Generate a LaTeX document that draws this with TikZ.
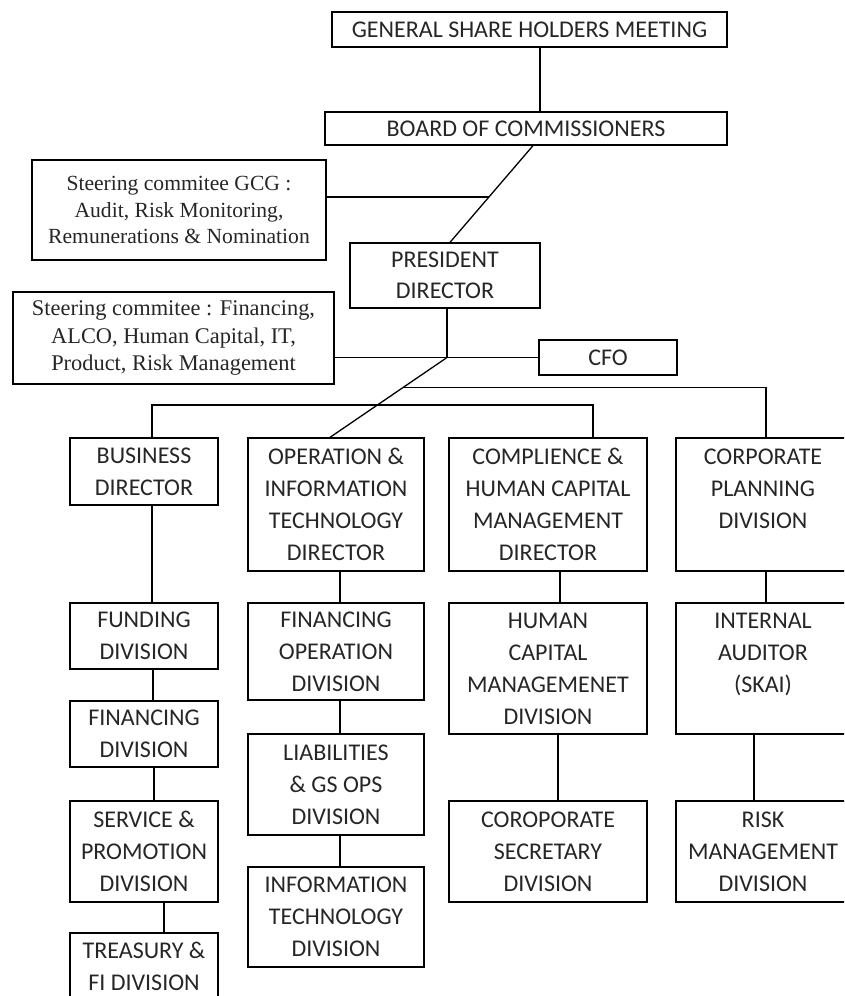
\documentclass[tikz,border=0pt]{standalone}
\usepackage{fontspec}
\usetikzlibrary{calc}
\newfontfamily\bxfont{Carlito}
\newfontfamily\stfont{Liberation Serif}
\tikzset{
  bx/.style={draw, line width=1.3pt, inner sep=0pt, align=center,
    font=\bxfont\fontsize{24}{32}\selectfont, text=black!85},
  stbox/.style={draw, line width=1.3pt, inner sep=0pt, align=center,
    font=\stfont\fontsize{21.6}{26.5}\selectfont, text=black!85},
  ln/.style={line width=1.3pt}
}
\begin{document}
\begin{tikzpicture}[x=1pt,y=-1pt]
\path[use as bounding box] (0,0) rectangle (844,996);
\clip (0,0) rectangle (844,996);
% top
\node[bx, minimum width=395pt, minimum height=35pt] (gsm) at (529.5,29.5) {GENERAL SHARE HOLDERS MEETING};
\node[bx, minimum width=402pt, minimum height=33pt] (boc) at (526,128.5) {BOARD OF COMMISSIONERS};
\node[stbox, minimum width=294pt, minimum height=100pt] (gcg) at (179,210) {Steering commitee GCG :\\Audit, Risk Monitoring,\\Remunerations \& Nomination};
\node[bx, minimum width=190pt, minimum height=65pt, font=\bxfont\fontsize{24}{31}\selectfont] (pres) at (445,275.5) {PRESIDENT\\DIRECTOR};
\node[stbox, minimum width=321pt, minimum height=92pt, font=\stfont\fontsize{22.4}{27.5}\selectfont] (st2) at (173.5,338) {Steering commitee : Financing,\\ALCO, Human Capital, IT,\\Product, Risk Management};
\node[bx, minimum width=138pt, minimum height=35pt] (cfo) at (608,357.5) {CFO};
% directors
\node[bx, minimum width=148pt, minimum height=67pt] (bus) at (144,471.5) {BUSINESS\\DIRECTOR};
\node[bx, minimum width=176pt, minimum height=133pt] (op) at (336,504.5) {OPERATION \&\\INFORMATION\\TECHNOLOGY\\DIRECTOR};
\node[bx, minimum width=198pt, minimum height=133pt] (comp) at (548,504.5) {COMPLIENCE \&\\HUMAN CAPITAL\\MANAGEMENT\\DIRECTOR};
\node[bx, minimum width=174pt, minimum height=133pt] (corp) at (763,504.5) {CORPORATE\\PLANNING\\DIVISION\\~};
% column 1
\node[bx, minimum width=148pt, minimum height=66pt] (fund) at (144,636) {FUNDING\\DIVISION};
\node[bx, minimum width=148pt, minimum height=66pt] (fin) at (144,734) {FINANCING\\DIVISION};
\node[bx, minimum width=148pt, minimum height=101pt] (serv) at (144,851.5) {SERVICE \&\\PROMOTION\\DIVISION};
\node[bx, minimum width=148pt, minimum height=67pt] (trea) at (144,966.5) {TREASURY \&\\FI DIVISION};
% column 2
\node[bx, minimum width=176pt, minimum height=97pt] (finop) at (336,651.5) {FINANCING\\OPERATION\\DIVISION};
\node[bx, minimum width=176pt, minimum height=101pt] (liab) at (336,784.5) {LIABILITIES\\\& GS OPS\\DIVISION};
\node[bx, minimum width=176pt, minimum height=100pt] (itdiv) at (336,917) {INFORMATION\\TECHNOLOGY\\DIVISION};
% column 3
\node[bx, minimum width=198pt, minimum height=131pt] (hcm) at (548,668.5) {HUMAN\\CAPITAL\\MANAGEMENET\\DIVISION};
\node[bx, minimum width=198pt, minimum height=101pt] (csec) at (548,851.5) {COROPORATE\\SECRETARY\\DIVISION};
% column 4
\node[bx, minimum width=174pt, minimum height=131pt] (ia) at (763,668.5) {INTERNAL\\AUDITOR\\(SKAI)\\~};
\node[bx, minimum width=174pt, minimum height=101pt] (risk) at (763,851.5) {RISK\\MANAGEMENT\\DIVISION};
% helper coordinates
\coordinate (bocA) at ([xshift=7pt]boc.south);
\coordinate (presA) at ([xshift=5pt]pres.north);
\coordinate (j1) at ($(bocA)!0.5306!(presA)$);
\coordinate (j2) at ([xshift=2pt]pres.south |- cfo.west);
\coordinate (opA) at ([xshift=-6pt]op.north);
\coordinate (h2) at ($(j2)!0.379!(opA)$);
\coordinate (h2e) at ([xshift=3pt]corp.north);
\coordinate (h3) at (0,405);
% connectors
\draw[ln] ([xshift=10.5pt]gsm.south) -- ([xshift=14pt]boc.north);
\draw[ln] (bocA) -- (presA);
\draw[ln] ([yshift=13pt]gcg.east) -- ([yshift=13pt]gcg.east -| j1);
\draw[ln] ([xshift=2pt]pres.south) -- (j2);
\draw[ln] (st2.east |- cfo.west) -- (cfo.west);
\draw[ln] (j2) -- (opA);
\draw[ln] (h2) -- (h2 -| h2e) -- (h2e);
\draw[ln] ([xshift=8pt]bus.north) -- ([xshift=8pt]bus.north |- h3) -- ([xshift=45pt]comp.north |- h3) -- ([xshift=45pt]comp.north);
\draw[ln] ([xshift=8pt]bus.south) -- ([xshift=8pt]fund.north);
\draw[ln] ([xshift=9pt]fund.south) -- ([xshift=9pt]fin.north);
\draw[ln] ([xshift=10pt]fin.south) -- ([xshift=10pt]serv.north);
\draw[ln] ([xshift=20pt]serv.south) -- ([xshift=20pt]trea.north);
\draw[ln] ([xshift=4pt]op.south) -- ([xshift=4pt]finop.north);
\draw[ln] ([xshift=4pt]finop.south) -- ([xshift=4pt]liab.north);
\draw[ln] ([xshift=4pt]liab.south) -- ([xshift=4pt]itdiv.north);
\draw[ln] ([xshift=12pt]comp.south) -- ([xshift=12pt]hcm.north);
\draw[ln] ([xshift=10pt]hcm.south) -- ([xshift=10pt]csec.north);
\draw[ln] ([xshift=3pt]corp.south) -- ([xshift=3pt]ia.north);
\draw[ln] ([xshift=-9pt]ia.south) -- ([xshift=-9pt]risk.north);
\end{tikzpicture}
\end{document}
